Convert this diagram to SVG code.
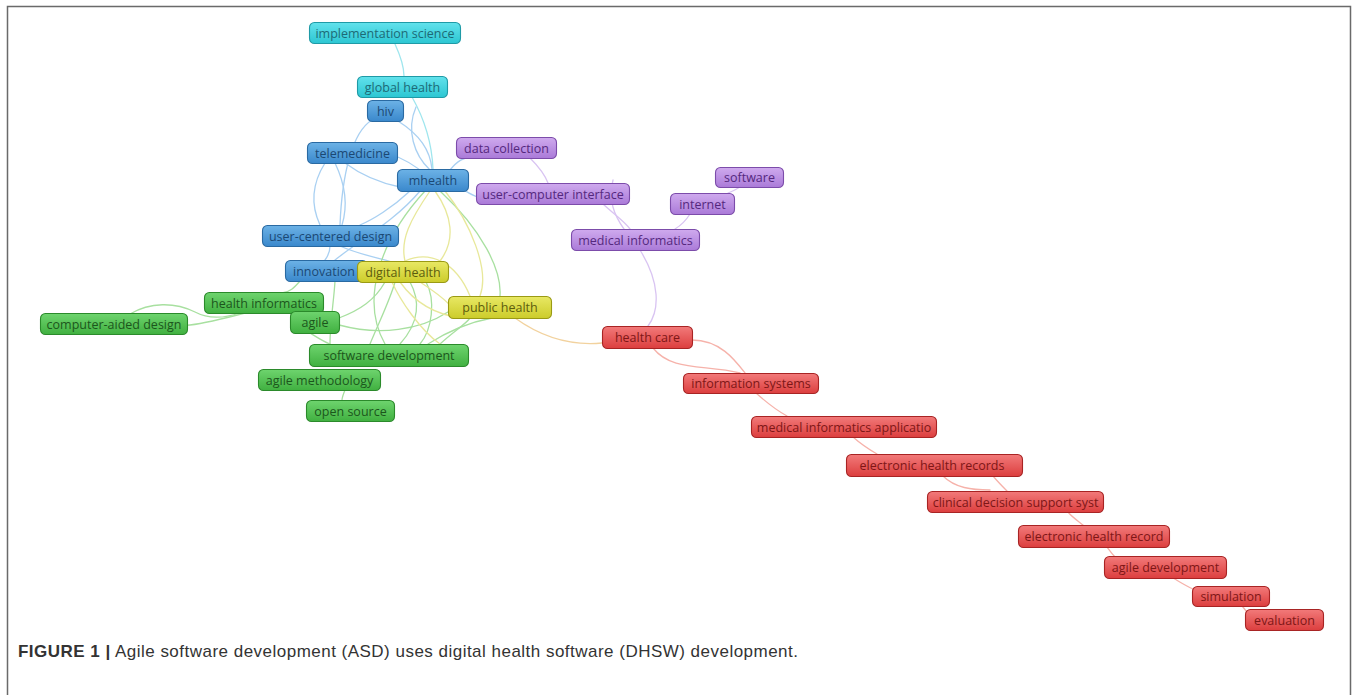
<svg xmlns="http://www.w3.org/2000/svg" width="1358" height="695" viewBox="0 0 1358 695">
<style>
.bg{fill:#ffffff}
.frame{fill:none;stroke:#6a6a6a;stroke-width:1.5}
.e{fill:none;stroke-width:1.3;stroke-linecap:round}
.ec{stroke:#9fe6ee}
.eb{stroke:#a9d0f2}
.eg{stroke:#a8e0a0}
.ey{stroke:#e8e89a}
.ep{stroke:#d9c4f2}
.er{stroke:#f6b2aa}
.eo{stroke:#f2d29e}
.n rect{stroke-width:1.1}
.n text{font-family:"Open Sans","DejaVu Sans",sans-serif;font-size:12.5px;text-anchor:middle}
.cy rect{fill:url(#gc);stroke:#1f9aa6}
.cy text{fill:#1d6a76}
.bl rect{fill:url(#gb);stroke:#2a6aa2}
.bl text{fill:#1b4874}
.pu rect{fill:url(#gp);stroke:#7c4caa}
.pu text{fill:#55287e}
.ye rect{fill:url(#gy);stroke:#9a9a14}
.ye text{fill:#5c5c0e}
.gr rect{fill:url(#gg);stroke:#2b8a2b}
.gr text{fill:#1c561c}
.re rect{fill:url(#gr);stroke:#a82424}
.re text{fill:#7e1616}
.cap{font-family:"Liberation Sans",Arial,sans-serif;font-size:17px;fill:#333333}
</style>
<defs>
<linearGradient id="gc" x1="0" y1="0" x2="0" y2="1"><stop offset="0" stop-color="#62e2ec"/><stop offset="1" stop-color="#2cc6d2"/></linearGradient>
<linearGradient id="gb" x1="0" y1="0" x2="0" y2="1"><stop offset="0" stop-color="#6cb2e6"/><stop offset="1" stop-color="#3a88cc"/></linearGradient>
<linearGradient id="gp" x1="0" y1="0" x2="0" y2="1"><stop offset="0" stop-color="#cfaaee"/><stop offset="1" stop-color="#aa7ad8"/></linearGradient>
<linearGradient id="gy" x1="0" y1="0" x2="0" y2="1"><stop offset="0" stop-color="#e8e864"/><stop offset="1" stop-color="#cccc2a"/></linearGradient>
<linearGradient id="gg" x1="0" y1="0" x2="0" y2="1"><stop offset="0" stop-color="#6ed46e"/><stop offset="1" stop-color="#40b040"/></linearGradient>
<linearGradient id="gr" x1="0" y1="0" x2="0" y2="1"><stop offset="0" stop-color="#f27a7a"/><stop offset="1" stop-color="#dc3e3e"/></linearGradient>
</defs>
<rect class="bg" x="0" y="0" width="1358" height="695"/>
<path class="frame" d="M7.5,695 V6.5 H1350.5 V695"/>

<g id="connectors">
<path class="e ec" d="M395,44 C400,55 404,65 404,76"/>
<path class="e ec" d="M412,97 C425,120 432,145 433,169"/>
<path class="e eb" d="M398,121 C420,135 430,150 432,169"/>
<path class="e eb" d="M372,120 C352,132 342,175 340,225"/>
<path class="e eb" d="M416,107 C406,130 414,155 430,170"/>
<path class="e eb" d="M390,154 C408,160 418,168 426,175"/>
<path class="e eb" d="M345,163 C368,180 390,185 400,187"/>
<path class="e eb" d="M325,163 C308,190 314,212 320,225"/>
<path class="e eb" d="M335,163 C348,190 346,212 342,225"/>
<path class="e eb" d="M410,191 C392,208 372,220 360,225"/>
<path class="e eb" d="M420,191 C396,220 360,240 335,260"/>
<path class="e eb" d="M450,170 C458,160 464,158 470,157"/>
<path class="e eb" d="M455,185 C465,190 470,195 478,197"/>
<path class="e eb" d="M330,246 C330,252 328,256 325,260"/>
<path class="e eb" d="M340,246 C360,255 380,258 392,262"/>
<path class="e eg" d="M300,281 C294,288 290,292 282,293"/>
<path class="e eg" d="M335,281 C334,300 330,322 330,344"/>
<path class="e eg" d="M130,314 C150,302 175,302 195,312 C210,320 225,318 240,313"/>
<path class="e eg" d="M150,322 C175,330 200,325 245,313"/>
<path class="e eg" d="M339,318 C360,310 375,300 385,282"/>
<path class="e eg" d="M310,333 C318,338 324,342 330,344"/>
<path class="e eg" d="M339,325 C380,336 420,330 448,312"/>
<path class="e eg" d="M370,344 C380,320 390,300 395,282"/>
<path class="e eg" d="M400,344 C420,322 420,300 410,282"/>
<path class="e eg" d="M420,344 C432,330 436,300 426,282"/>
<path class="e eg" d="M440,344 C455,330 465,325 470,318"/>
<path class="e eg" d="M428,344 C450,330 470,322 492,318"/>
<path class="e eg" d="M345,390 C343,395 342,398 342,400"/>
<path class="e eg" d="M425,191 C380,240 360,300 385,344"/>
<path class="e eg" d="M440,191 C482,230 502,270 500,296"/>
<path class="e ey" d="M445,191 C470,222 490,270 480,296"/>
<path class="e ey" d="M430,191 C410,220 400,240 405,261"/>
<path class="e ey" d="M435,191 C452,215 456,240 440,261"/>
<path class="e ey" d="M420,282 C440,295 445,300 450,305"/>
<path class="e ey" d="M400,282 C420,310 445,316 462,318"/>
<path class="e ey" d="M405,261 C430,250 456,262 470,296"/>
<path class="e ey" d="M392,282 C400,300 420,330 440,344"/>
<path class="e ep" d="M530,158 C540,168 545,175 548,183"/>
<path class="e ep" d="M603,204 C615,215 625,222 630,229"/>
<path class="e ep" d="M613,180 C608,200 614,215 624,229"/>
<path class="e ep" d="M690,214 C685,222 680,226 675,229"/>
<path class="e ep" d="M740,187 C735,190 731,192 728,193"/>
<path class="e ep" d="M640,250 C660,282 660,310 648,326"/>
<path class="e eo" d="M515,318 C540,336 570,346 602,343"/>
<path class="e er" d="M692,340 C720,340 735,360 745,373"/>
<path class="e er" d="M653,348 C672,372 705,364 740,373"/>
<path class="e er" d="M756,393 C766,402 776,410 787,416"/>
<path class="e er" d="M853,437 C862,445 870,450 877,454"/>
<path class="e er" d="M943,476 C955,488 972,490 990,490"/>
<path class="e er" d="M993,476 C998,482 1003,487 1007,491"/>
<path class="e er" d="M1068,512 C1072,517 1078,521 1083,525"/>
<path class="e er" d="M1107,547 C1110,551 1112,554 1115,557"/>
<path class="e er" d="M1173,578 C1180,582 1186,586 1193,589"/>
<path class="e er" d="M1242,606 C1244,608 1245,610 1247,612"/>
</g>

<g id="n-implementation-science" class="n cy"><rect x="309.5" y="22.5" width="151" height="21" rx="5"/><text x="385" y="37.5">implementation science</text></g>
<g id="n-global-health" class="n cy"><rect x="357.5" y="76.5" width="90" height="21" rx="5"/><text x="402.5" y="91.5">global health</text></g>
<g id="n-hiv" class="n bl"><rect x="367.5" y="100.5" width="36" height="21" rx="5"/><text x="385.5" y="115.5">hiv</text></g>
<g id="n-telemedicine" class="n bl"><rect x="307.5" y="142.5" width="90" height="21" rx="5"/><text x="352.5" y="157.5">telemedicine</text></g>
<g id="n-mhealth" class="n bl"><rect x="397.5" y="169.5" width="71" height="22" rx="5"/><text x="433" y="185">mhealth</text></g>
<g id="n-data-collection" class="n pu"><rect x="456.5" y="137.5" width="100" height="21" rx="5"/><text x="506.5" y="152.5">data collection</text></g>
<g id="n-user-computer-interface" class="n pu"><rect x="476.5" y="183.5" width="153" height="21" rx="5"/><text x="553" y="198.5">user-computer interface</text></g>
<g id="n-software" class="n pu"><rect x="715.5" y="167.5" width="68" height="20" rx="5"/><text x="749.5" y="182">software</text></g>
<g id="n-internet" class="n pu"><rect x="670.5" y="193.5" width="64" height="21" rx="5"/><text x="702.5" y="208.5">internet</text></g>
<g id="n-medical-informatics" class="n pu"><rect x="571.5" y="229.5" width="128" height="21" rx="5"/><text x="635.5" y="244.5">medical informatics</text></g>
<g id="n-user-centered-design" class="n bl"><rect x="262.5" y="225.5" width="136" height="21" rx="5"/><text x="330.5" y="240.5">user-centered design</text></g>
<g id="n-innovation" class="n bl"><rect x="285.5" y="260.5" width="82" height="21" rx="5"/><text x="324" y="275.5">innovation</text></g>
<g id="n-digital-health" class="n ye"><rect x="357.5" y="261.5" width="91" height="21" rx="5"/><text x="403" y="276.5">digital health</text></g>
<g id="n-health-informatics" class="n gr"><rect x="204.5" y="292.5" width="119" height="21" rx="5"/><text x="264" y="307.5">health informatics</text></g>
<g id="n-computer-aided-design" class="n gr"><rect x="40.5" y="313.5" width="147" height="21" rx="5"/><text x="114" y="328.5">computer-aided design</text></g>
<g id="n-agile" class="n gr"><rect x="290.5" y="311.5" width="49" height="22" rx="5"/><text x="315" y="327">agile</text></g>
<g id="n-public-health" class="n ye"><rect x="448.5" y="296.5" width="103" height="22" rx="5"/><text x="500" y="312">public health</text></g>
<g id="n-software-development" class="n gr"><rect x="309.5" y="344.5" width="159" height="22" rx="5"/><text x="389" y="360">software development</text></g>
<g id="n-agile-methodology" class="n gr"><rect x="258.5" y="369.5" width="122" height="21" rx="5"/><text x="319.5" y="384.5">agile methodology</text></g>
<g id="n-open-source" class="n gr"><rect x="306.5" y="400.5" width="88" height="21" rx="5"/><text x="350.5" y="415.5">open source</text></g>
<g id="n-health-care" class="n re"><rect x="602.5" y="326.5" width="90" height="22" rx="5"/><text x="647.5" y="342">health care</text></g>
<g id="n-information-systems" class="n re"><rect x="683.5" y="373.5" width="135" height="20" rx="5"/><text x="751" y="388">information systems</text></g>
<g id="n-medical-informatics-applicatio" class="n re"><rect x="751.5" y="416.5" width="185" height="21" rx="5"/><text x="844" y="431.5">medical informatics applicatio</text></g>
<g id="n-electronic-health-records" class="n re"><rect x="846.5" y="454.5" width="176" height="22" rx="5"/><text x="932" y="470">electronic health records</text></g>
<g id="n-clinical-decision-support-syst" class="n re"><rect x="927.5" y="491.5" width="176" height="21" rx="5"/><text x="1015.5" y="506.5">clinical decision support syst</text></g>
<g id="n-electronic-health-record" class="n re"><rect x="1018.5" y="525.5" width="151" height="22" rx="5"/><text x="1094" y="541">electronic health record</text></g>
<g id="n-agile-development" class="n re"><rect x="1104.5" y="556.5" width="122" height="22" rx="5"/><text x="1165.5" y="572">agile development</text></g>
<g id="n-simulation" class="n re"><rect x="1192.5" y="586.5" width="77" height="20" rx="5"/><text x="1231" y="601">simulation</text></g>
<g id="n-evaluation" class="n re"><rect x="1245.5" y="609.5" width="78" height="21" rx="5"/><text x="1284.5" y="624.5">evaluation</text></g>

<text class="cap" x="18" y="657" textLength="780" lengthAdjust="spacing"><tspan font-weight="bold">FIGURE 1 |</tspan> Agile software development (ASD) uses digital health software (DHSW) development.</text>
</svg>
